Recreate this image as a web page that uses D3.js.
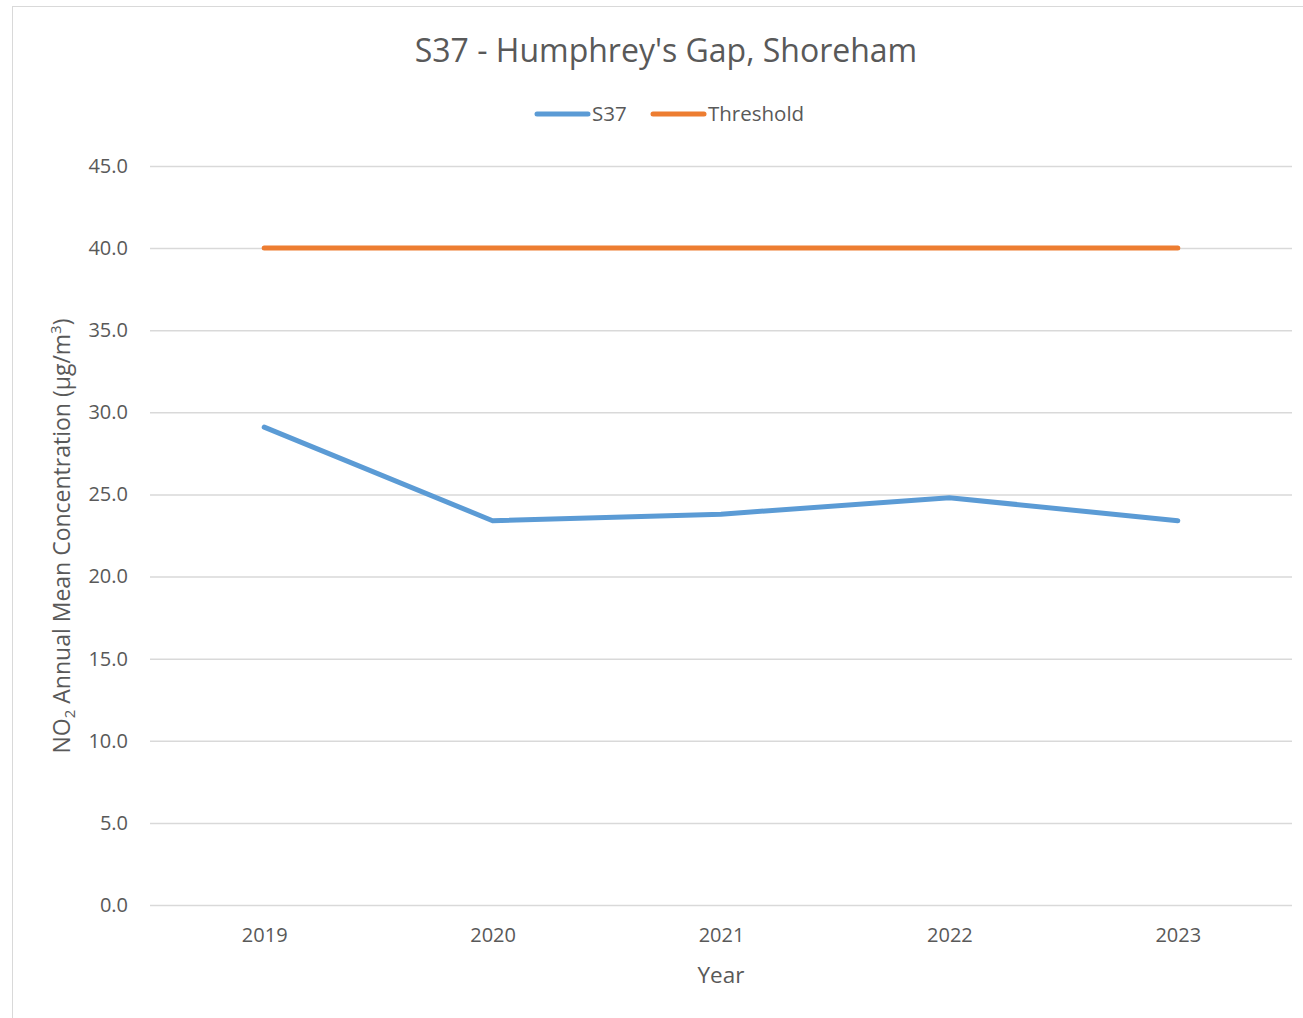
<!DOCTYPE html>
<html><head><meta charset="utf-8">
<script src="https://cdn.jsdelivr.net/npm/d3@7"></script>
<style>body{margin:0;background:#fff;} svg{display:block;} text{font-family:"Open Sans",Lato,sans-serif;fill:#595959;}</style>
</head><body>
<svg id="c" width="1303" height="1018"></svg>
<script>
const years = ["2019","2020","2021","2022","2023"];
const s37 = [29.1, 23.4, 23.8, 24.8, 23.4];
const threshold = [40, 40, 40, 40, 40];
const yTicks = [0,5,10,15,20,25,30,35,40,45];

const svg = d3.select("#c");
svg.append("rect").attr("x",12.5).attr("y",6.5).attr("width",1400).attr("height",1100)
  .attr("fill","#fff").attr("stroke","#d9d9d9").attr("stroke-width",1);

const L=150, R=1292, T=166, B=905;
const x = d3.scalePoint().domain(years).range([L,R]).padding(0.5);
const y = d3.scaleLinear().domain([0,45]).range([B,T]);

const yAxis = d3.axisLeft(y).tickValues(yTicks).tickFormat(d3.format(".1f")).tickSize(-(R-L)).tickPadding(20);
const gy = svg.append("g").attr("transform",`translate(${L},0)`).call(yAxis);
gy.select(".domain").remove();
gy.selectAll(".tick line").attr("stroke","#d9d9d9").attr("stroke-width",1.5);
gy.selectAll(".tick text").style("font-size","20px").attr("fill","#595959").attr("x",-22);

const xAxis = d3.axisBottom(x).tickSize(0).tickPadding(23);
const gx = svg.append("g").attr("transform",`translate(0,${B})`).call(xAxis);
gx.select(".domain").remove();
gx.selectAll(".tick text").style("font-size","20px").attr("fill","#595959");

const line = d3.line().x((d,i)=>x(years[i])).y(d=>y(d));
svg.append("path").datum(threshold).attr("d",line).attr("fill","none")
  .attr("stroke","#ed7d31").attr("stroke-width",5).attr("stroke-linecap","round");
svg.append("path").datum(s37).attr("d",line).attr("fill","none")
  .attr("stroke","#5b9bd5").attr("stroke-width",5).attr("stroke-linecap","round").attr("stroke-linejoin","round");

svg.append("text").attr("x",666).attr("y",62).attr("text-anchor","middle")
  .style("font-size","32px").text("S37 - Humphrey's Gap, Shoreham");

const leg = [{n:"S37",c:"#5b9bd5",x:535},{n:"Threshold",c:"#ed7d31",x:651}];
leg.forEach(l=>{
  svg.append("line").attr("x1",l.x+2).attr("x2",l.x+53).attr("y1",114).attr("y2",114)
    .attr("stroke",l.c).attr("stroke-width",5).attr("stroke-linecap","round");
  svg.append("text").attr("x",l.x+57).attr("y",121).style("font-size","20.5px").text(l.n);
});

svg.append("text").attr("x",721).attr("y",983).attr("text-anchor","middle").style("font-size","22.5px").text("Year");

const yl = svg.append("text").attr("transform","translate(70,536) rotate(-90)").attr("text-anchor","middle").style("font-size","23px");
yl.append("tspan").text("NO");
yl.append("tspan").attr("dy",5).style("font-size","15px").text("2");
yl.append("tspan").attr("dy",-5).text(" Annual Mean Concentration (µg/m");
yl.append("tspan").attr("dy",-9).style("font-size","15px").text("3");
yl.append("tspan").attr("dy",9).text(")");
</script>
</body></html>
